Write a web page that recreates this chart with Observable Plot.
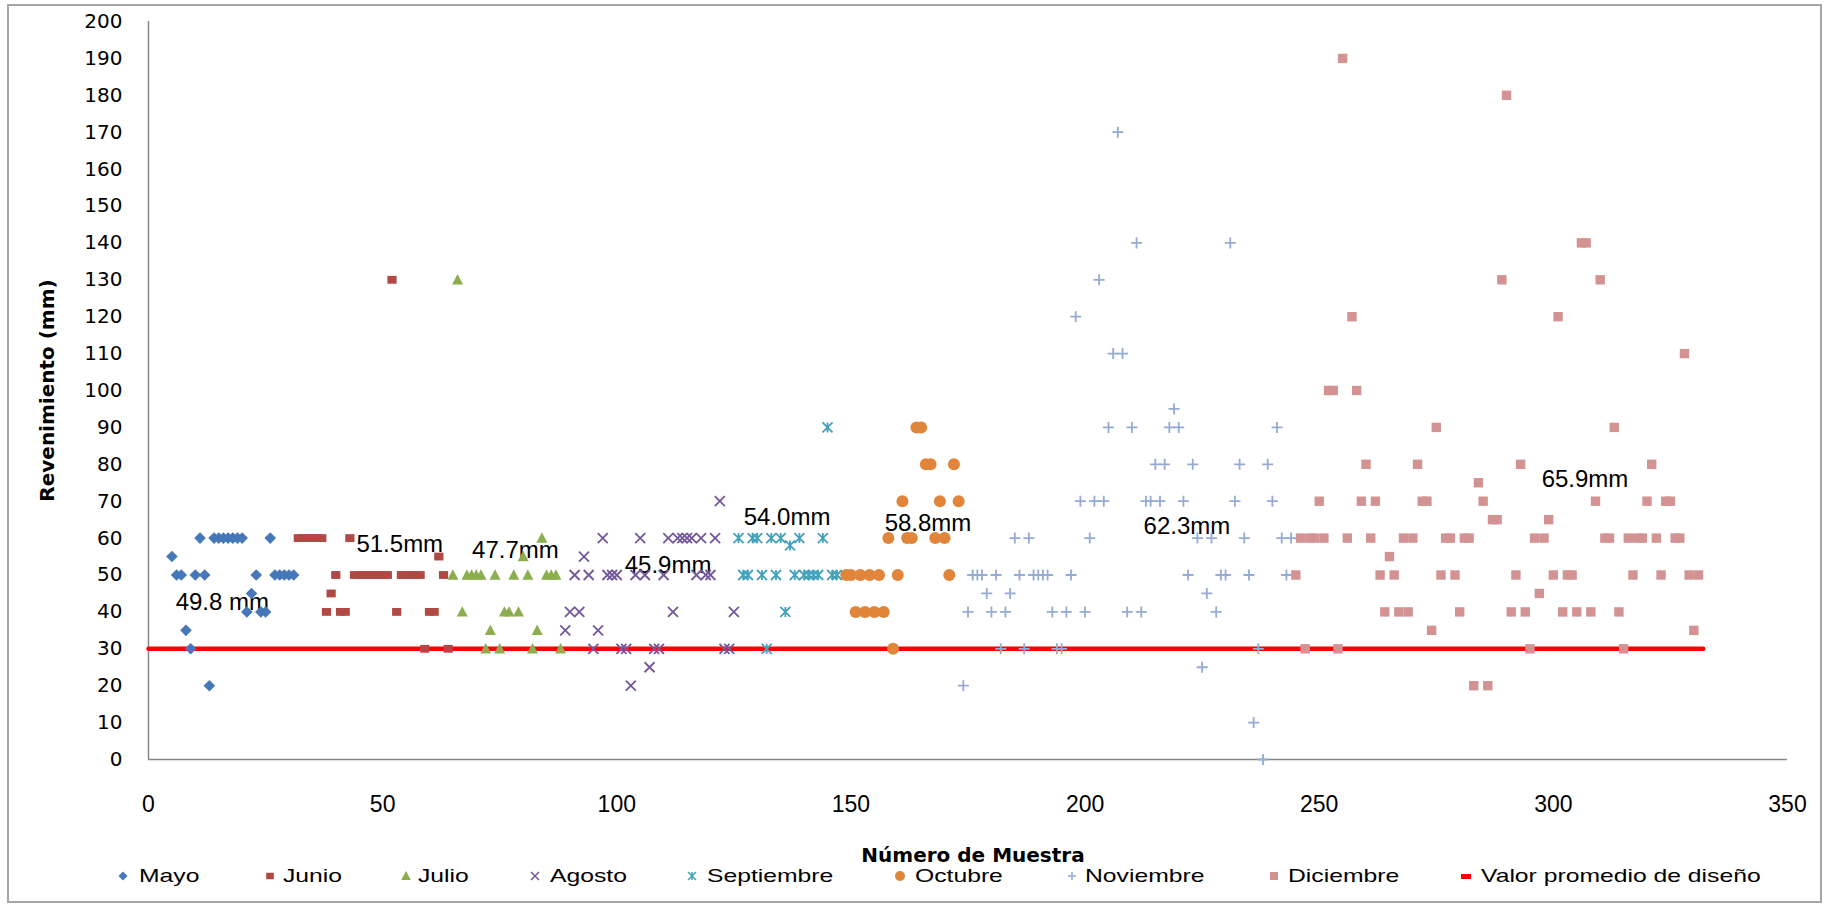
<!DOCTYPE html>
<html><head><meta charset="utf-8">
<script src="https://cdn.jsdelivr.net/npm/d3@7"></script>
<script src="https://cdn.jsdelivr.net/npm/@observablehq/plot@0.6"></script>
<style>
body{margin:0;background:#fff;}
#wrap{position:relative;width:1828px;height:905px;overflow:hidden;background:#fff;}
#frame{position:absolute;left:7px;top:4px;width:1815px;height:899px;border:2px solid #A6A6A6;box-sizing:border-box;pointer-events:none;}
#legend{position:absolute;left:0;top:865px;width:1828px;height:22px;}
.mk{position:absolute;top:0;width:20px;height:22px;}
.lbl{position:absolute;top:0;font-family:"Liberation Sans",Arial,sans-serif;font-size:19px;line-height:22px;transform:scaleX(1.3);transform-origin:left center;white-space:nowrap;color:#000;}
</style></head><body>
<div id="wrap"><div id="chart"></div><div id="legend"></div><div id="frame"></div></div>
<script>
// ---- data ----
const meses = ["Mayo","Junio","Julio","Agosto","Septiembre","Octubre","Noviembre","Diciembre"];
const inicioMes = [5, 32, 65, 89, 126, 149, 174, 245];
const mayo = [55,50,50,35,30,50,60,50,20,60,60,60,60,60,60,60,40,45,50,40,40,60,50,50,50,50,50];
const junio = [60,60,60,60,60,60,40,45,50,40,40,60,50,50,50,50,50,50,50,50,130,40,50,50,50,50,50,30,40,40,55,50,30];
const julio = [50,130,40,50,50,50,50,30,35,50,30,40,40,50,40,55,50,30,35,60,50,50,50,30];
const agosto = [35,40,50,40,55,50,30,35,60,50,50,50,30,30,20,50,60,50,25,30,30,50,60,40,60,60,60,60,50,60,50,50,60,70,30,30,40];
const septiembre = [60,50,50,60,60,50,30,60,50,60,40,58,50,60,50,50,50,50,60,90,50,50];
const octubre = [50,50,40,50,40,50,40,50,40,60,30,50,70,60,60,90,90,80,80,60,70,60,50,80,70];
const noviembre = [20,40,50,50,50,45,40,50,30,40,45,60,50,30,60,50,50,50,50,40,30,30,40,50,120,70,40,60,70,130,70,90,110,170,110,40,90,140,40,70,70,80,70,80,90,95,90,70,50,80,60,25,45,60,40,50,50,140,70,80,60,50,10,30,0,80,70,90,60,50,60];
const diciembre = [50,60,30,60,60,70,60,100,100,30,190,60,120,100,70,80,60,70,50,40,55,50,40,60,40,60,80,70,70,35,90,50,60,60,50,40,60,60,20,75,70,20,65,65,130,180,40,50,80,40,30,60,45,60,65,50,120,40,50,50,40,140,140,40,70,130,60,60,90,40,30,60,50,60,60,70,80,60,50,70,70,60,60,110,50,35,50];
const disenoNombre = "Valor promedio de diseño";
const disenoX = [0, 332];
const disenoY = [30, 30];
const etiquetas = ["49.8 mm","51.5mm","47.7mm","45.9mm","54.0mm","58.8mm","62.3mm","65.9mm"];
const etiquetaX = [5.8, 44.4, 69.1, 101.7, 127.1, 157.2, 212.5, 297.5];
const etiquetaY = [42.7, 58.2, 56.8, 52.6, 65.7, 63.9, 63.2, 76];
const xTicks = [0,50,100,150,200,250,300,350];
const yTicks = [0,10,20,30,40,50,60,70,80,90,100,110,120,130,140,150,160,170,180,190,200];
const tituloX = "Número de Muestra";
const tituloY = "Revenimiento (mm)";

// ---- styles ----
const series = [mayo, junio, julio, agosto, septiembre, octubre, noviembre, diciembre];
const colores = ["#4677B8","#B04844","#8DAE4F","#73599A","#44A2BB","#E0853A","#95ABD3","#D39392"];
const R = s => Math.sqrt(s / Math.PI);
const rombo = {draw(c, s){const r=R(s); c.moveTo(0,-r); c.lineTo(r,0); c.lineTo(0,r); c.lineTo(-r,0); c.closePath();}};
const cuadrado = {draw(c, s){const r=R(s); c.rect(-r,-r*0.85,2*r,1.7*r);}};
const triangulo = {draw(c, s){const r=R(s); c.moveTo(0,-r*1.05); c.lineTo(r,r*0.85); c.lineTo(-r,r*0.85); c.closePath();}};
const equis = {draw(c, s){const r=R(s); c.moveTo(-r,-r); c.lineTo(r,r); c.moveTo(r,-r); c.lineTo(-r,r);}};
const asterisco = {draw(c, s){const r=R(s); c.moveTo(-r,-r); c.lineTo(r,r); c.moveTo(r,-r); c.lineTo(-r,r); c.moveTo(0,-r); c.lineTo(0,r);}};
const circulo = {draw(c, s){const r=R(s); c.moveTo(r,0); c.arc(0,0,r,0,2*Math.PI);}};
const mas = {draw(c, s){const r=R(s); c.moveTo(-r,0); c.lineTo(r,0); c.moveTo(0,-r); c.lineTo(0,r);}};
const cuadradoD = {draw(c, s){const r=R(s); c.rect(-r,-r,2*r,2*r);}};
const simbolos = [rombo, cuadrado, triangulo, equis, asterisco, circulo, mas, cuadradoD];
const radios = [5.8, 4.6, 5.5, 5, 5, 6, 5.5, 4.7];
const rellenos = [true, true, true, false, false, true, false, true];

const dots = series.map((vals, k) => {
  const data = vals.map((v, i) => ({n: inicioMes[k] + i, v}));
  return Plot.dot(data, {
    x: "n", y: "v", symbol: simbolos[k], r: radios[k],
    fill: rellenos[k] ? colores[k] : "none",
    stroke: rellenos[k] ? "none" : colores[k],
    strokeWidth: rellenos[k] ? 0 : 1.8
  });
});

const lineaData = disenoX.map((x, i) => ({x, y: disenoY[i]}));

const chart = Plot.plot({
  width: 1828, height: 866,
  marginLeft: 148, marginRight: 41, marginTop: 21, marginBottom: 107,
  style: {background: "white", fontFamily: "DejaVu Sans", overflow: "visible"},
  x: {domain: [0, 350]},
  y: {domain: [0, 200]},
  marks: [
    Plot.axisY({ticks: yTicks, tickSize: 0, tickPadding: 26, fontSize: 20, fontFamily: "DejaVu Sans", fill: "#000", label: null}),
    Plot.axisX({ticks: xTicks, tickSize: 0, tickPadding: 36, fontSize: 23, fontFamily: "Liberation Sans", fill: "#000", label: null}),
    Plot.ruleX([0], {stroke: "#868686", strokeWidth: 1.5}),
    Plot.ruleY([0], {stroke: "#868686", strokeWidth: 1.5}),
    Plot.line(lineaData, {x: "x", y: "y", stroke: "#FF0000", strokeWidth: 4.5}),
    Plot.text(etiquetas, {x: (d, i) => etiquetaX[i], y: (d, i) => etiquetaY[i], text: d => d,
      textAnchor: "start", fontSize: 24, fontFamily: "Liberation Sans", fill: "#000"}),
    ...dots,
    Plot.text([tituloY], {frameAnchor: "left", textAnchor: "middle", lineAnchor: "middle", rotate: -90, dx: -101, fontWeight: "bold", fontSize: 20, fontFamily: "DejaVu Sans", fill: "#000"}),
    Plot.text([tituloX], {frameAnchor: "bottom", textAnchor: "middle", lineAnchor: "middle", dy: 96, dx: 5, fontWeight: "bold", fontSize: 20, fontFamily: "DejaVu Sans", fill: "#000"})
  ]
});
document.getElementById("chart").appendChild(chart);

// ---- legend ----
const legMarkX = [123, 270, 406, 535, 692, 900, 1072, 1274, 1466];
const legTextX = [139, 283, 418, 550, 707, 915, 1085, 1288, 1481];
const legRad = [4.5, 3.8, 4.8, 4, 4, 5, 4, 4];
const legend = document.getElementById("legend");
const nombres = [...meses, disenoNombre];
nombres.forEach((name, k) => {
  const svg = d3.create("svg").attr("class", "mk").attr("width", 20).attr("height", 22)
    .style("left", (legMarkX[k] - 10) + "px");
  if (k < 8) {
    const p = d3.path();
    simbolos[k].draw(p, legRad[k] * legRad[k] * Math.PI);
    svg.append("path").attr("d", p.toString()).attr("transform", "translate(10,11)")
      .attr("fill", rellenos[k] ? colores[k] : "none")
      .attr("stroke", rellenos[k] ? "none" : colores[k])
      .attr("stroke-width", 1.5);
  } else {
    svg.append("rect").attr("x", 5).attr("y", 9).attr("width", 10).attr("height", 5).attr("fill", "#FF0000");
  }
  legend.appendChild(svg.node());
  const s = document.createElement("span");
  s.className = "lbl";
  s.style.left = legTextX[k] + "px";
  s.textContent = name;
  legend.appendChild(s);
});
</script>
</body></html>
